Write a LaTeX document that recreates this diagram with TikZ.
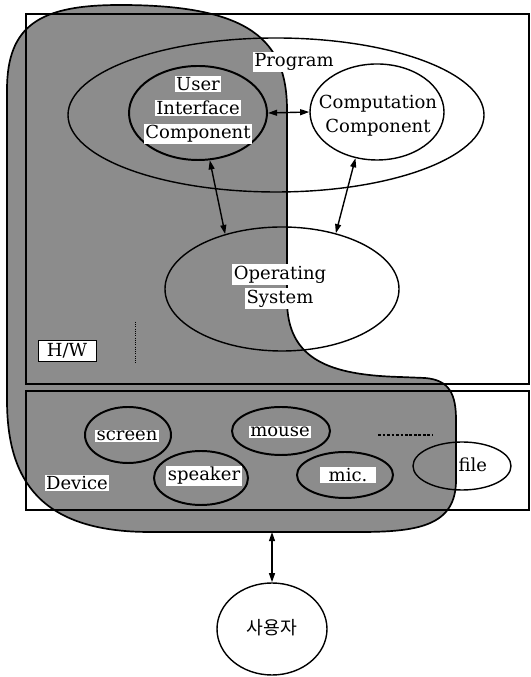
\documentclass[tikz,border=0pt]{standalone}
\usepackage{fontspec}
\setmainfont{DejaVu Serif}
\newfontfamily\kofont{Noto Sans CJK KR}
\usetikzlibrary{shapes.geometric,arrows.meta}
\newcommand{\wbox}[1]{{\setlength{\fboxsep}{1pt}\colorbox{white}{#1}}}

\begin{document}
\begin{tikzpicture}
	\tikzstyle{every node}=[font=\fontsize{12.8pt}{17pt}\selectfont]
	\tikzstyle{part}=[draw, ellipse, line width=1pt, inner sep=0pt]
	\tikzstyle{tag}=[fill=white, inner xsep=0.04cm, inner ysep=0.03cm]
	\tikzstyle{link}=[<->, >={Triangle[length=6.5pt,width=4.2pt]}, line width=1pt]
	\useasboundingbox (0,0) rectangle (13.25,16.925);
	\draw [fill={rgb,255:red,140; green,140; blue,140}, line width=1.2pt] (0.175,14.675) .. controls (0.175,16.3) and (1.0,16.8) .. (3.0,16.8) .. controls (6.25,16.8) and (7.175,15.925) .. (7.175,14.175) -- (7.175,9.425) .. controls (7.175,7.925) and (8.25,7.55) .. (10.0,7.5) -- (10.625,7.475) .. controls (11.25,7.425) and (11.4,7.05) .. (11.4,6.425) -- (11.4,4.925) .. controls (11.4,3.8) and (10.5,3.625) .. (9.0,3.625) -- (3.75,3.625) .. controls (1.0,3.625) and (0.175,4.925) .. (0.175,6.925) -- cycle;
	\coordinate (hwbottom) at (6.8,3.625);
	\draw [line width=1pt] (0.65,16.575) rectangle (13.225,7.325);
	\draw [line width=1pt] (0.65,7.15) rectangle (13.225,4.175);
	\draw [line width=0.6pt, densely dotted] (3.375,8.875) -- (3.375,7.85);
	\draw [line width=1.2pt, dash pattern=on 2pt off 1.2pt] (9.45,6.05) -- (10.825,6.05);
	\node [part, minimum width=10.4cm, minimum height=3.85cm] (program) at (6.9,14.05) {};
	\node [part, line width=1.4pt, minimum width=3.45cm, minimum height=2.35cm] (ui) at (4.95,14.1) {};
	\node [part, minimum width=3.35cm, minimum height=2.4cm] (comp) at (9.425,14.125) {};
	\node [part, minimum width=5.85cm, minimum height=3.1cm] (os) at (7.05,9.7) {};
	\node [part, line width=1.4pt, minimum width=2.15cm, minimum height=1.4cm] (screen) at (3.2,6.05) {};
	\node [part, line width=1.4pt, minimum width=2.45cm, minimum height=1.2cm] (mouse) at (7.025,6.15) {};
	\node [part, line width=1.4pt, minimum width=2.35cm, minimum height=1.35cm] (speaker) at (5.025,4.975) {};
	\node [part, line width=1.4pt, minimum width=2.4cm, minimum height=1.15cm] (mic) at (8.625,5.05) {};
	\node [part, minimum width=2.45cm, minimum height=1.2cm] (file) at (11.55,5.275) {};
	\node [part, minimum width=2.75cm, minimum height=2.3cm] (user) at (6.8,1.2) {};
	\node [tag] (programtext) at (7.35,15.375) {Program};
	\node [align=center, inner sep=0pt] (uitext) at (4.95,14.175) {\wbox{User}\\\wbox{Interface}\\\wbox{Component}};
	\node [align=center] (comptext) at (9.45,14.025) {Computation\\Component};
	\node [align=center, inner sep=0pt] (ostext) at (7.0,9.7625) {\wbox{Operating}\\\wbox{System}};
	\node [tag, draw, line width=0.5pt, inner xsep=0.22cm, inner ysep=0.08cm] (hwtext) at (1.675,8.15) {H/W};
	\node [tag] (devicetext) at (1.925,4.85) {Device};
	\node [tag] (screentext) at (3.175,6.025) {screen};
	\node [tag] (mousetext) at (7.0,6.125) {mouse};
	\node [tag] (speakertext) at (5.1,5.025) {speaker};
	\node [tag, inner xsep=0.22cm] (mictext) at (8.7,5.05) {mic.};
	\node (filetext) at (11.82,5.3) {file};
	\node [font=\kofont\fontsize{13pt}{16pt}\selectfont] (usertext) at (6.8,1.225) {사용자};
	\draw [link] (ui.east) -- (comp.west);
	\draw [link] (ui.-76) -- (os.136);
	\draw [link] (comp.-115) -- (os.46);
	\draw [link] (hwbottom) -- (user.north);
\end{tikzpicture}
\end{document}
